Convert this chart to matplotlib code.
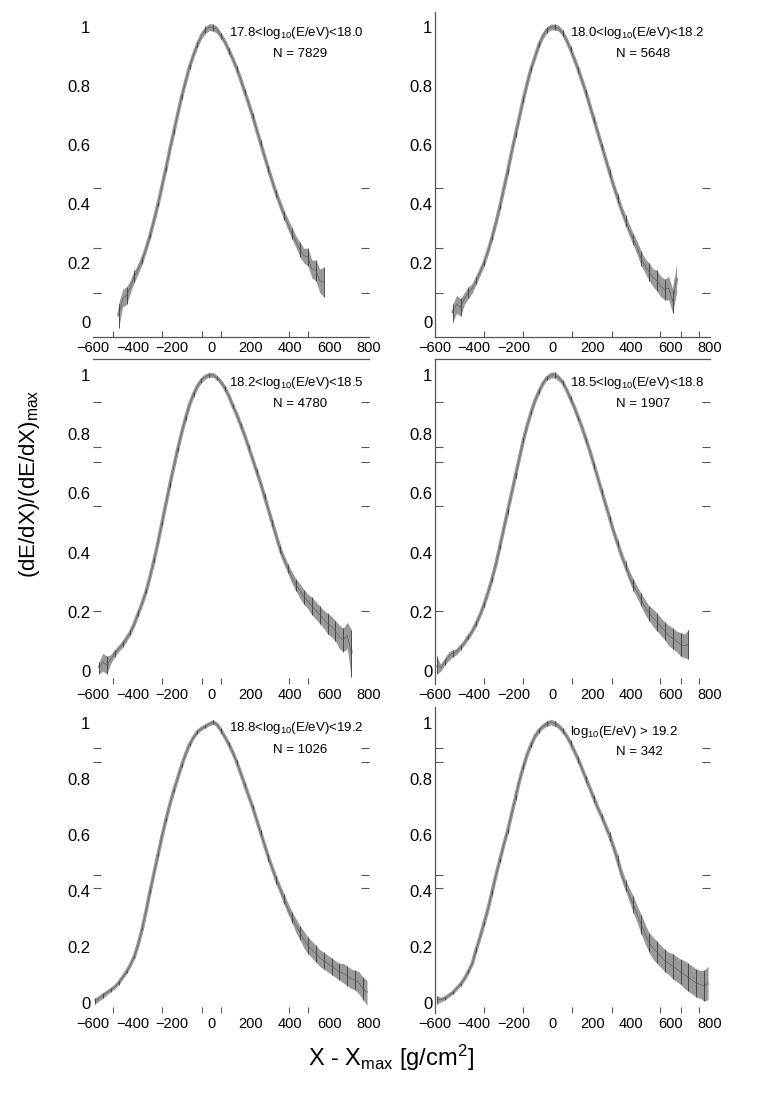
import matplotlib
matplotlib.use("Agg")
import matplotlib.pyplot as plt
import numpy as np

plt.rcParams['font.family'] = ['Liberation Sans', 'DejaVu Sans']
plt.rcParams['mathtext.fontset'] = 'custom'
plt.rcParams['mathtext.rm'] = 'Liberation Sans'
plt.rcParams['mathtext.it'] = 'Liberation Sans:italic'

W, H = 758, 1098
STEP = 20  # g/cm2 per bin

# ---- data: normalised profiles, (first bin centre, values, errors) ----
x0_1 = -470
y_1 = [0.02, 0.08, 0.09, 0.12, 0.155, 0.18, 0.21, 0.25, 0.295, 0.345,
       0.40, 0.46, 0.52, 0.585, 0.645, 0.705, 0.765, 0.815, 0.865, 0.905,
       0.94, 0.97, 0.99, 1.0, 0.998, 0.99, 0.97, 0.948, 0.92, 0.89,
       0.858, 0.82, 0.78, 0.74, 0.698, 0.652, 0.607, 0.562, 0.518, 0.475,
       0.435, 0.398, 0.362, 0.33, 0.30, 0.272, 0.245, 0.225, 0.22, 0.18,
       0.175, 0.14, 0.135]
e_1 = [0.04, 0.03, 0.03, 0.02, 0.02, 0.015, 0.012, 0.01, 0.01, 0.008,
       0.008, 0.008, 0.008, 0.008, 0.008, 0.008, 0.008, 0.008, 0.008, 0.008,
       0.008, 0.01, 0.012, 0.012, 0.012, 0.012, 0.01, 0.01, 0.01, 0.01,
       0.01, 0.01, 0.01, 0.01, 0.01, 0.01, 0.01, 0.01, 0.01, 0.012,
       0.012, 0.015, 0.015, 0.018, 0.02, 0.02, 0.025, 0.025, 0.03, 0.03,
       0.035, 0.04, 0.05]

x0_2 = -510
y_2 = [0.03, 0.06, 0.05, 0.08, 0.10, 0.115, 0.14, 0.17, 0.20, 0.24,
       0.285, 0.335, 0.39, 0.45, 0.51, 0.575, 0.635, 0.695, 0.755, 0.81,
       0.86, 0.90, 0.94, 0.97, 0.99, 1.0, 1.0, 0.995, 0.98, 0.955,
       0.925, 0.89, 0.855, 0.815, 0.775, 0.73, 0.685, 0.64, 0.595, 0.55,
       0.505, 0.46, 0.42, 0.38, 0.345, 0.31, 0.28, 0.25, 0.215, 0.19,
       0.17, 0.15, 0.14, 0.12, 0.11, 0.115, 0.07, 0.15]
e_2 = [0.03, 0.03, 0.03, 0.02, 0.02, 0.015, 0.012, 0.01, 0.01, 0.01,
       0.008, 0.008, 0.008, 0.008, 0.008, 0.008, 0.008, 0.008, 0.008, 0.008,
       0.008, 0.008, 0.008, 0.01, 0.01, 0.01, 0.01, 0.01, 0.01, 0.01,
       0.01, 0.01, 0.01, 0.01, 0.01, 0.01, 0.01, 0.01, 0.01, 0.01,
       0.012, 0.012, 0.015, 0.015, 0.018, 0.02, 0.02, 0.022, 0.025, 0.025,
       0.03, 0.03, 0.035, 0.035, 0.035, 0.04, 0.04, 0.05]

x0_3 = -570
y_3 = [0.01, 0.03, 0.02, 0.04, 0.06, 0.075, 0.09, 0.11, 0.13, 0.16,
       0.195, 0.23, 0.27, 0.32, 0.375, 0.435, 0.50, 0.565, 0.63, 0.69,
       0.75, 0.805, 0.855, 0.90, 0.935, 0.962, 0.982, 0.995, 1.0, 1.0,
       0.99, 0.975, 0.955, 0.928, 0.895, 0.865, 0.83, 0.795, 0.755, 0.715,
       0.675, 0.635, 0.59, 0.545, 0.50, 0.455, 0.41, 0.375, 0.345, 0.315,
       0.29, 0.27, 0.25, 0.235, 0.22, 0.205, 0.19, 0.175, 0.16, 0.15,
       0.135, 0.115, 0.105, 0.12, 0.06]
e_3 = [0.02, 0.03, 0.03, 0.015, 0.012, 0.01, 0.01, 0.01, 0.008, 0.008,
       0.008, 0.008, 0.008, 0.008, 0.008, 0.008, 0.008, 0.008, 0.008, 0.008,
       0.008, 0.008, 0.008, 0.008, 0.008, 0.008, 0.008, 0.008, 0.008, 0.008,
       0.008, 0.008, 0.008, 0.008, 0.008, 0.008, 0.008, 0.008, 0.008, 0.008,
       0.008, 0.01, 0.01, 0.01, 0.01, 0.012, 0.012, 0.015, 0.015, 0.02,
       0.02, 0.025, 0.025, 0.025, 0.03, 0.03, 0.03, 0.03, 0.035, 0.035,
       0.035, 0.04, 0.04, 0.045, 0.08]

x0_4 = -590
y_4 = [0.02, 0.01, 0.03, 0.05, 0.06, 0.065, 0.08, 0.095, 0.115, 0.135,
       0.16, 0.19, 0.225, 0.265, 0.31, 0.36, 0.42, 0.48, 0.54, 0.60,
       0.66, 0.72, 0.78, 0.83, 0.875, 0.915, 0.945, 0.972, 0.99, 1.0,
       1.0, 0.99, 0.975, 0.95, 0.92, 0.89, 0.855, 0.82, 0.78, 0.74,
       0.695, 0.65, 0.605, 0.56, 0.515, 0.47, 0.43, 0.39, 0.355, 0.32,
       0.29, 0.265, 0.24, 0.215, 0.195, 0.18, 0.165, 0.15, 0.135, 0.12,
       0.11, 0.10, 0.09, 0.085, 0.09]
e_4 = [0.03, 0.01, 0.01, 0.015, 0.012, 0.01, 0.008, 0.008, 0.008, 0.008,
       0.008, 0.008, 0.008, 0.008, 0.008, 0.008, 0.008, 0.008, 0.008, 0.008,
       0.008, 0.008, 0.008, 0.008, 0.008, 0.008, 0.008, 0.008, 0.008, 0.01,
       0.01, 0.01, 0.008, 0.008, 0.008, 0.008, 0.008, 0.008, 0.008, 0.008,
       0.008, 0.008, 0.01, 0.01, 0.01, 0.012, 0.012, 0.015, 0.015, 0.018,
       0.02, 0.02, 0.022, 0.025, 0.025, 0.03, 0.03, 0.03, 0.03, 0.035,
       0.035, 0.035, 0.04, 0.04, 0.05]

x0_5 = -590
y_5 = [0.005, 0.015, 0.025, 0.035, 0.045, 0.055, 0.07, 0.09, 0.11, 0.135,
       0.165, 0.21, 0.265, 0.33, 0.40, 0.465, 0.53, 0.595, 0.655, 0.71,
       0.76, 0.805, 0.85, 0.89, 0.925, 0.95, 0.97, 0.982, 0.99, 0.998,
       1.005, 0.995, 0.975, 0.95, 0.925, 0.895, 0.86, 0.82, 0.78, 0.74,
       0.70, 0.655, 0.61, 0.565, 0.52, 0.48, 0.44, 0.405, 0.37, 0.335,
       0.305, 0.275, 0.25, 0.225, 0.205, 0.19, 0.175, 0.16, 0.15, 0.14,
       0.13, 0.12, 0.11, 0.105, 0.095, 0.085, 0.08, 0.07, 0.05, 0.035]
e_5 = [0.01, 0.01, 0.01, 0.008, 0.006, 0.006, 0.006, 0.006, 0.006, 0.006,
       0.006, 0.006, 0.006, 0.006, 0.006, 0.006, 0.006, 0.006, 0.006, 0.006,
       0.006, 0.006, 0.006, 0.006, 0.006, 0.006, 0.006, 0.006, 0.006, 0.006,
       0.008, 0.008, 0.008, 0.008, 0.008, 0.008, 0.008, 0.008, 0.008, 0.008,
       0.008, 0.008, 0.01, 0.01, 0.012, 0.012, 0.015, 0.015, 0.018, 0.02,
       0.02, 0.025, 0.025, 0.03, 0.03, 0.03, 0.03, 0.03, 0.03, 0.03,
       0.03, 0.03, 0.03, 0.035, 0.035, 0.035, 0.035, 0.04, 0.04, 0.045]

x0_6 = -590
y_6 = [0.01, 0.01, 0.015, 0.025, 0.035, 0.05, 0.065, 0.085, 0.11, 0.14,
       0.19, 0.235, 0.285, 0.335, 0.395, 0.455, 0.51, 0.565, 0.615, 0.675,
       0.735, 0.795, 0.845, 0.89, 0.925, 0.955, 0.975, 0.99, 1.0, 1.005,
       1.0, 0.99, 0.975, 0.955, 0.93, 0.90, 0.87, 0.835, 0.80, 0.765,
       0.73, 0.695, 0.665, 0.63, 0.595, 0.555, 0.51, 0.46, 0.42, 0.385,
       0.35, 0.315, 0.28, 0.245, 0.215, 0.195, 0.18, 0.165, 0.15, 0.14,
       0.13, 0.12, 0.11, 0.10, 0.09, 0.08, 0.07, 0.065, 0.06, 0.07]
e_6 = [0.015, 0.008, 0.006, 0.006, 0.006, 0.006, 0.006, 0.006, 0.006, 0.006,
       0.008, 0.008, 0.008, 0.008, 0.008, 0.008, 0.008, 0.008, 0.008, 0.008,
       0.008, 0.008, 0.008, 0.008, 0.008, 0.008, 0.008, 0.008, 0.01, 0.01,
       0.01, 0.01, 0.01, 0.01, 0.01, 0.01, 0.01, 0.01, 0.01, 0.01,
       0.012, 0.012, 0.012, 0.012, 0.015, 0.015, 0.018, 0.02, 0.02, 0.025,
       0.03, 0.03, 0.035, 0.035, 0.035, 0.04, 0.04, 0.04, 0.04, 0.04,
       0.045, 0.045, 0.045, 0.05, 0.05, 0.05, 0.05, 0.05, 0.055, 0.06]

energy_labels = [r"17.8<log$_{10}$(E/eV)<18.0", r"18.0<log$_{10}$(E/eV)<18.2",
                 r"18.2<log$_{10}$(E/eV)<18.5", r"18.5<log$_{10}$(E/eV)<18.8",
                 r"18.8<log$_{10}$(E/eV)<19.2", r"log$_{10}$(E/eV) > 19.2"]
n_events = [7829, 5648, 4780, 1907, 1026, 342]

xtick_vals = [-600, -400, -200, 0, 200, 400, 600, 800]
xtick_text = ["\u2212600", "\u2212400", "\u2212200", "0", "200", "400", "600", "800"]
ytick_vals = [0, 0.2, 0.4, 0.6, 0.8, 1.0]
ytick_text = ["0", "0.2", "0.4", "0.6", "0.8", "1"]
# stray tick marks of the original frames
xminor_left = [-497, -249, -46, 51, 396, 492]
xminor_right = [-352, -153, 97, 301, 546, 653, 745]
yminor_rows = [[0.098, 0.25, 0.454, 0.6],
               [0.203, 0.559, 0.705, 0.756, 0.908],
               [0.41, 0.457, 0.862, 0.912]]

profiles = [(x0_1, y_1, e_1), (x0_2, y_2, e_2), (x0_3, y_3, e_3),
            (x0_4, y_4, e_4), (x0_5, y_5, e_5), (x0_6, y_6, e_6)]

# ---- layout in pixels ----
cols = [(93, 276), (435, 275)]
rows = [(12, 337, (-0.0508, 1.0508)),
        (359, 684, (-0.0439, 1.054)),
        (707, 1013, (-0.0376, 1.059))]
# annotation centres (x1, y1, x2, y2) in pixels
ann = [(296, 33, 300, 54), (637, 33, 643, 54),
       (296, 383, 300, 404), (637, 383, 643, 404),
       (296, 728, 300, 750), (624, 732, 639, 752)]
# which frame lines are drawn: (left, bottom, top)
frames = [(False, True, False), (True, True, False),
          (False, False, True), (True, False, True),
          (False, False, False), (True, False, False)]

fig = plt.figure(figsize=(W / 100, H / 100), dpi=100)
axcol = '#555555'
band = '#999999'

for i in range(6):
    r, c = divmod(i, 2)
    top, bot, ylim = rows[r]
    xl, wd = cols[c]
    ax = fig.add_axes([xl / W, 1 - bot / H, wd / W, (bot - top) / H])
    x0, y, e = profiles[i]
    y = np.array(y)
    e = np.array(e)
    x = x0 + STEP * np.arange(len(y))

    ax.fill_between(x, y - e, y + e, color=band, lw=0)
    ax.plot(x, y, color=band, lw=2.6, solid_capstyle='butt')
    # error bars: only every other bin shows as a dark stroke
    ax.vlines(x[::2], (y - e)[::2], (y + e)[::2], color='#3a3a3a', lw=0.6)
    ax.plot(x, y, color='#555555', lw=0.4)

    ax.set_xlim(-600, 800)
    ax.set_ylim(*ylim)

    show_l, show_b, show_t = frames[i]
    ax.spines['right'].set_visible(False)
    ax.spines['left'].set_visible(show_l)
    ax.spines['bottom'].set_visible(show_b)
    ax.spines['top'].set_visible(show_t)
    for s in ax.spines.values():
        s.set_color(axcol)
        s.set_linewidth(0.9)

    ax.set_xticks(xtick_vals, xtick_text)
    ax.set_xticks(xminor_left if c == 0 else xminor_right, minor=True)
    ax.set_yticks(ytick_vals, ytick_text)
    ax.set_yticks(yminor_rows[r], minor=True)
    ax.tick_params(axis='x', which='major', length=0, pad=3, labelsize=10.5)
    ax.tick_params(axis='x', which='minor', direction='in', length=4,
                   width=0.8, color=axcol)
    ax.tick_params(axis='y', which='major', length=0, pad=2, labelsize=12)
    ax.tick_params(axis='y', which='minor', direction='in', length=6,
                   width=0.8, color=axcol, left=True, right=True)

    ax1x, ax1y, ax2x, ax2y = ann[i]
    fig.text(ax1x / W, 1 - ax1y / H, energy_labels[i], ha='center',
             va='center', fontsize=9.5)
    fig.text(ax2x / W, 1 - ax2y / H, "N = %d" % n_events[i], ha='center',
             va='center', fontsize=9.5)

fig.text(30 / W, 1 - 484 / H, r"(dE/dX)/(dE/dX)$_{\rm max}$", rotation=90,
         ha='center', va='center', fontsize=16)
fig.text(391 / W, 1 - 1058 / H, r"X - X$_{\rm max}$ [g/cm$^{2}$]",
         ha='center', va='center', fontsize=17)

fig.savefig("out.png", dpi=100)
